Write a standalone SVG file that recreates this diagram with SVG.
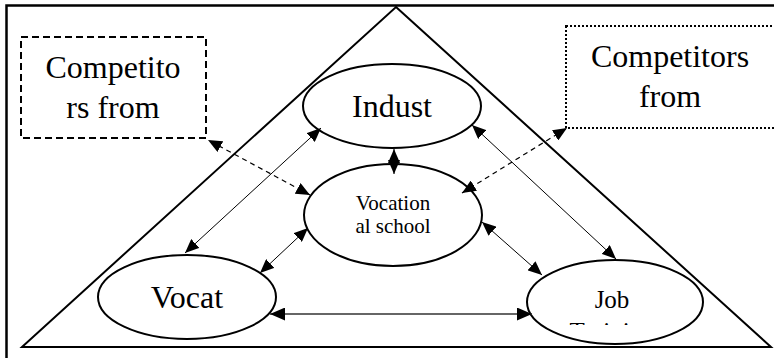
<svg xmlns="http://www.w3.org/2000/svg" width="774" height="358" viewBox="0 0 774 358">
<defs>
<style>
.frame{fill:none;stroke:#000;stroke-width:2.5}
.tri{fill:none;stroke:#000;stroke-width:2}
.node{fill:#fff;stroke:#000;stroke-width:2}
.dashbox{fill:#fff;stroke:#000;stroke-width:2;stroke-dasharray:7,4}
.dotbox{fill:#fff;stroke:#000;stroke-width:2;stroke-dasharray:2,2}
.link{fill:none;stroke:#000;stroke-width:1;marker-start:url(#ah);marker-end:url(#ah)}
.dlink{fill:none;stroke:#000;stroke-width:1.2;stroke-dasharray:5,4;marker-start:url(#ah);marker-end:url(#ah)}
.hlink{fill:none;stroke:#333;stroke-width:1.6;marker-start:url(#ahb);marker-end:url(#ahb)}
text{font-family:"Liberation Serif","Times New Roman","DejaVu Serif",serif;fill:#000;text-anchor:middle}
</style>
<marker id="ah" markerUnits="userSpaceOnUse" markerWidth="14" markerHeight="12" refX="14" refY="6" orient="auto-start-reverse" viewBox="0 0 14 12">
<path d="M0,0 L14,6 L0,12 z" fill="#000"/>
</marker>
<marker id="ahb" markerUnits="userSpaceOnUse" markerWidth="15" markerHeight="13" refX="15" refY="6.5" orient="auto-start-reverse" viewBox="0 0 15 13">
<path d="M0,0 L15,6.5 L0,13 z" fill="#000"/>
</marker>
<clipPath id="jobclip"><rect x="520" y="290" width="190" height="35"/></clipPath>
</defs>
<rect class="frame" x="6.5" y="5.5" width="800" height="400"/>
<path class="tri" d="M396,7 L771,347 L22,347 Z"/>
<g id="competitors-left">
<rect class="dashbox" x="21" y="37" width="185" height="101"/>
<text x="113" y="78" font-size="32" font-family="Liberation Serif, serif">Competito</text>
<text x="113" y="118" font-size="32" font-family="Liberation Serif, serif">rs from</text>
</g>
<g id="competitors-right">
<rect class="dotbox" x="566" y="26" width="215" height="102"/>
<text x="670" y="67" font-size="32" font-family="Liberation Serif, serif">Competitors</text>
<text x="670" y="107" font-size="32" font-family="Liberation Serif, serif">from</text>
</g>
<g id="indust">
<ellipse class="node" cx="392" cy="106" rx="89" ry="42"/>
<text x="392" y="117" font-size="32" font-family="Liberation Serif, serif">Indust</text>
</g>
<g id="vocational-school">
<ellipse class="node" cx="393" cy="215" rx="89" ry="51"/>
<text x="393" y="210" font-size="21" font-family="Liberation Serif, serif">Vocation</text>
<text x="393" y="233" font-size="21" font-family="Liberation Serif, serif">al school</text>
</g>
<g id="vocat">
<ellipse class="node" cx="187" cy="297" rx="89" ry="42"/>
<text x="187" y="308" font-size="32" font-family="Liberation Serif, serif">Vocat</text>
</g>
<g id="job-training">
<ellipse class="node" cx="615" cy="302" rx="88" ry="42"/>
<text x="612" y="308" font-size="25" font-family="Liberation Serif, serif">Job</text>
<text x="612" y="340" font-size="25" font-family="Liberation Serif, serif" clip-path="url(#jobclip)">Training</text>
</g>
<g id="connectors">
<line class="dlink" x1="310" y1="195" x2="208" y2="140"/>
<line class="dlink" x1="462" y1="193" x2="567" y2="128"/>
<line class="link" x1="321" y1="128" x2="185" y2="253"/>
<line class="link" x1="308" y1="228" x2="260" y2="273"/>
<line class="link" x1="472" y1="125" x2="616" y2="259"/>
<line class="link" x1="482" y1="222" x2="542" y2="275"/>
<line class="link" x1="394" y1="149" x2="394" y2="174"/>
<line class="hlink" x1="270" y1="314" x2="532" y2="314"/>
</g>
</svg>
